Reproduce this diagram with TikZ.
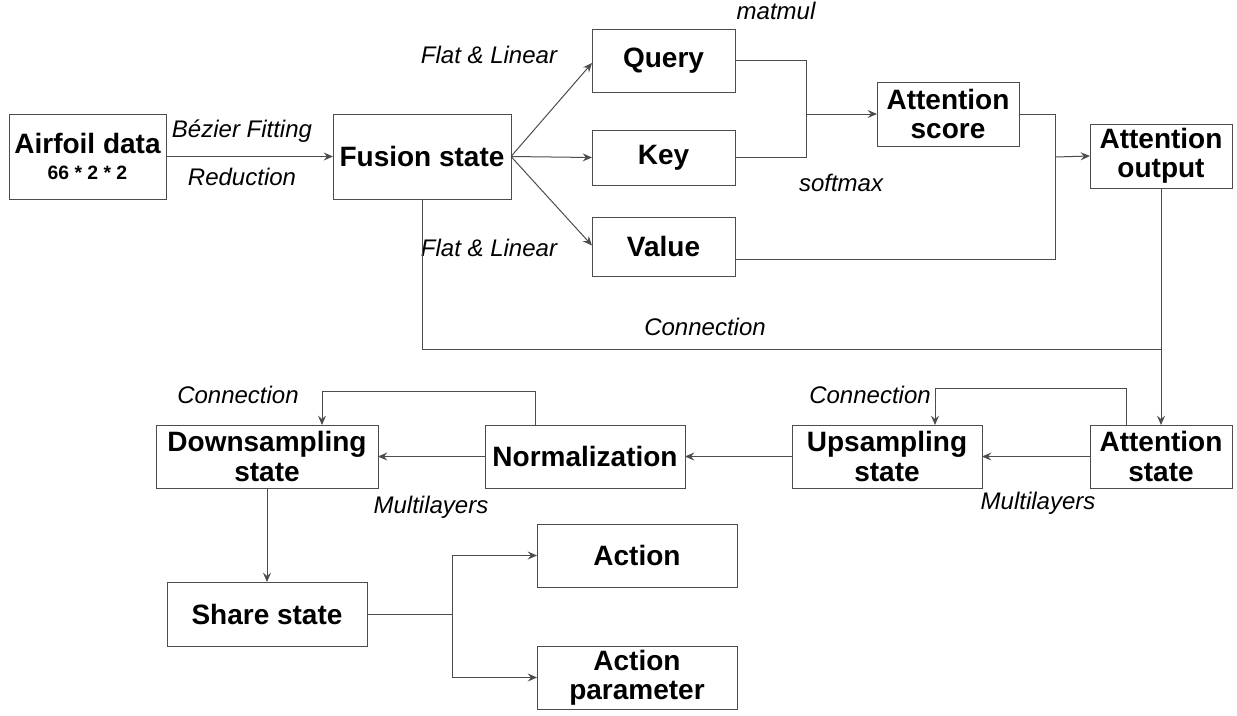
\documentclass[tikz,border=0pt]{standalone}
\usepackage{fontspec}
\setmainfont{Liberation Sans}
\usetikzlibrary{arrows.meta}
\begin{document}
\begin{tikzpicture}[x=0.75pt,y=-0.75pt,
  box/.style={draw=black!70, line width=0.75pt, inner sep=0pt, outer sep=0pt, align=center,
    font=\fontsize{21}{22}\selectfont\bfseries},
  wh/.style 2 args={minimum width=#1*0.75pt, minimum height=#2*0.75pt},
  lbl/.style={font=\fontsize{18}{20}\selectfont\itshape, inner sep=0pt},
  conn/.style={draw=black!70, line width=0.75pt},
  arr/.style={conn, -{Stealth[length=7pt,width=6pt,inset=2.5pt]}},
]
\useasboundingbox (0,0) rectangle (1237,715);

% boxes
\node[box, wh={157}{85}] (airfoil) at (87.5,156.5) {Airfoil data\\[-3pt]{\fontsize{14.5}{16}\selectfont 66 * 2 * 2}};
\node[box, wh={178}{85}] (fusion) at (422,156.5) {Fusion state};
\node[box, wh={143}{63}] (query) at (663.5,60.5) {Query};
\node[box, wh={143}{55}] (key) at (663.5,157.5) {Key};
\node[box, wh={143}{59}] (value) at (663.5,246.5) {Value};
\node[box, wh={142}{64}] (score) at (948,114) {Attention\\score};
\node[box, wh={142}{64}] (output) at (1161,156) {Attention\\output};
\node[box, wh={142}{63}] (attstate) at (1161,456.5) {Attention\\state};
\node[box, wh={190}{63}] (upsamp) at (887,456.5) {Upsampling\\state};
\node[box, wh={200}{63}] (norm) at (585,456.5) {Normalization};
\node[box, wh={222}{63}] (down) at (267,456.5) {Downsampling\\state};
\node[box, wh={200}{64}] (share) at (267,614) {Share state};
\node[box, wh={200}{63}] (action) at (637,555.5) {Action};
\node[box, wh={200}{63}] (actparam) at (637,677.5) {Action\\parameter};

% labels
\node[lbl] (lbez) at (242,131) {Bézier Fitting};
\node[lbl] (lred) at (242,177) {Reduction};
\node[lbl] (lfl1) at (489,55) {Flat \& Linear};
\node[lbl] (lfl2) at (489,248) {Flat \& Linear};
\node[lbl] (lmat) at (776,11) {matmul};
\node[lbl] (lsoft) at (841,183) {softmax};
\node[lbl] (lcon1) at (705,327) {Connection};
\node[lbl] (lcon2) at (870,395) {Connection};
\node[lbl] (lcon3) at (238,395) {Connection};
\node[lbl] (lmul1) at (1038,503) {Multilayers};
\node[lbl] (lmul2) at (431,507) {Multilayers};

% junction coordinates
\coordinate (j1) at (806,114);
\coordinate (j2) at (1055,157);
\coordinate (j3) at (1055,259);
\coordinate (j4) at (1161,349);
\coordinate (c1) at (1126,388);
\coordinate (c2) at (935,388);
\coordinate (c3) at (535,391);
\coordinate (c4) at (322,391);
\coordinate (j5) at (452,614);

% connectors
\draw[arr] (airfoil.east) -- (fusion.west);
\draw[arr] (fusion.east) -- ([yshift=-2.5*0.75pt]query.west);
\draw[arr] (fusion.east) -- (key.west);
\draw[arr] (fusion.east) -- ([yshift=1*0.75pt]value.west);
\draw[conn] ([yshift=0.5*0.75pt]query.east) -| (j1) |- (key.east);
\draw[arr] (j1) -- (score.west);
\draw[conn] (score.east) -| (j2);
\draw[conn] (value.east |- j3) -- (j3) -- (j2);
\draw[arr] (j2) -- (output.west);
\draw[arr] (output.south) -- (attstate.north);
\draw[conn] (fusion.south) |- (j4);
\draw[arr] (attstate.north -| c1) -- (c1) -- (c2) -- (upsamp.north -| c2);
\draw[arr] (attstate.west) -- (upsamp.east);
\draw[arr] (upsamp.west) -- (norm.east);
\draw[arr] (norm.north -| c3) -- (c3) -- (c4) -- (down.north -| c4);
\draw[arr] (norm.west) -- (down.east);
\draw[arr] (down.south) -- (share.north);
\draw[conn] (share.east) -- (j5);
\draw[arr] (j5) |- (action.west);
\draw[arr] (j5) |- (actparam.west);
\end{tikzpicture}
\end{document}
